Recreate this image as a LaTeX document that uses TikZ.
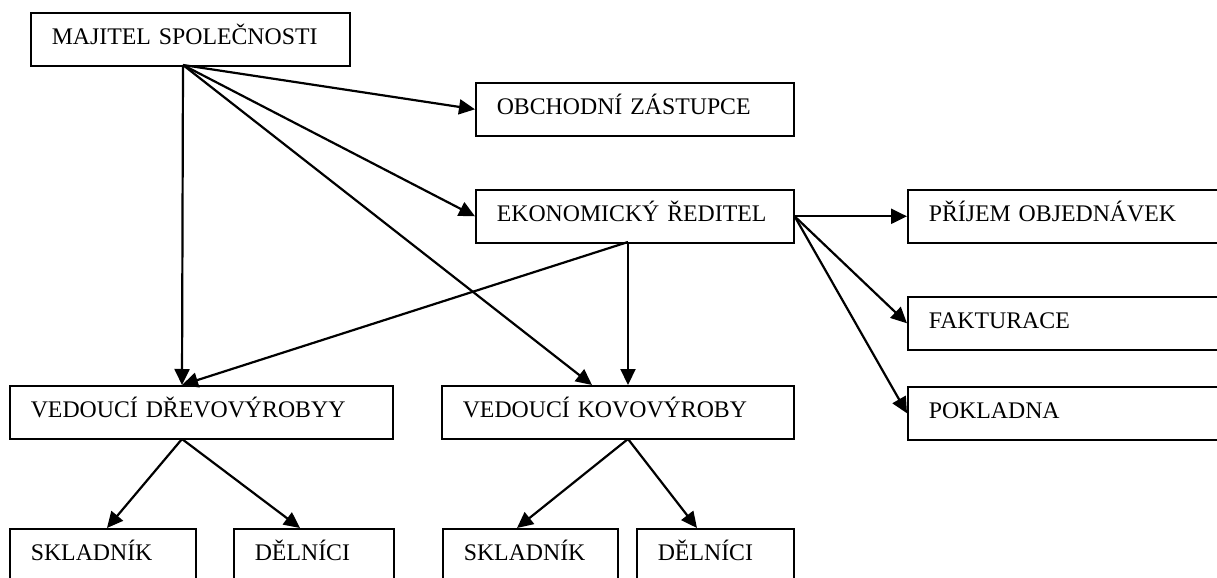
\documentclass[tikz,border=0pt]{standalone}
\usepackage{fontspec}
\setmainfont{Liberation Serif}
\usetikzlibrary{arrows.meta}
\tikzset{
 orgbox/.style={draw,line width=0.8pt,anchor=north west,inner xsep=10.5pt,inner ysep=0pt,
  minimum height=26.5pt,text height=8pt,text depth=2.5pt,align=left,
  font=\fontsize{11.9pt}{13pt}\selectfont},
 orgarrow/.style={line width=1.1pt,-{Triangle[length=8pt,width=7.5pt]}}
}
\begin{document}
\begin{tikzpicture}[x=0.5pt,y=-0.5pt]
 \clip (0,0) rectangle (1217,578);
 \fill[white] (0,0) rectangle (1217,578);
 % boxes
 \node[orgbox,text width=138.5pt] (maj) at (30,12) {MAJITEL SPOLEČNOSTI};
 \node[orgbox,text width=138pt] (obch) at (475,82) {OBCHODNÍ ZÁSTUPCE};
 \node[orgbox,text width=138pt] (ekon) at (475,189) {EKONOMICKÝ ŘEDITEL};
 \node[orgbox,text width=145pt] (prijem) at (907,189) {PŘÍJEM OBJEDNÁVEK};
 \node[orgbox,text width=145pt] (fakt) at (907,296) {FAKTURACE};
 \node[orgbox,text width=145pt] (pokl) at (907,386) {POKLADNA};
 \node[orgbox,text width=170.5pt] (drevo) at (9,385) {VEDOUCÍ DŘEVOVÝROBYY};
 \node[orgbox,text width=155pt] (kovo) at (441,385) {VEDOUCÍ KOVOVÝROBY};
 \node[orgbox,text width=72pt] (skladA) at (9,528) {SKLADNÍK};
 \node[orgbox,text width=59pt] (delniciA) at (233,528) {DĚLNÍCI};
 \node[orgbox,text width=66.5pt] (skladB) at (442,528) {SKLADNÍK};
 \node[orgbox,text width=57.5pt] (delniciB) at (636,528) {DĚLNÍCI};
 % ports
 \coordinate (majout) at (183,65);
 \coordinate (ekonout) at (628,242);
 \coordinate (drevoin) at (182,385);
 \coordinate (drevoout) at (182,439);
 \coordinate (kovoinA) at (592,385);
 \coordinate (kovoinB) at (628,385);
 \coordinate (kovoout) at (628,439);
 \coordinate (skladAin) at (107,528);
 \coordinate (delniciAin) at (300,528);
 \coordinate (skladBin) at (517,528);
 \coordinate (delniciBin) at (697,528);
 % arrows
 \draw[orgarrow] (majout) -- (obch.west);
 \draw[orgarrow] (majout) -- (ekon.west);
 \draw[orgarrow] (majout) -- (kovoinA);
 \draw[orgarrow] (majout) -- (drevoin);
 \draw[orgarrow] (ekonout) -- (drevoin);
 \draw[orgarrow] (ekonout) -- (kovoinB);
 \draw[orgarrow] (ekon.east) -- (prijem.west);
 \draw[orgarrow] (ekon.east) -- (fakt.west);
 \draw[orgarrow] (ekon.east) -- (pokl.west);
 \draw[orgarrow] (drevoout) -- (skladAin);
 \draw[orgarrow] (drevoout) -- (delniciAin);
 \draw[orgarrow] (kovoout) -- (skladBin);
 \draw[orgarrow] (kovoout) -- (delniciBin);
\end{tikzpicture}
\end{document}
